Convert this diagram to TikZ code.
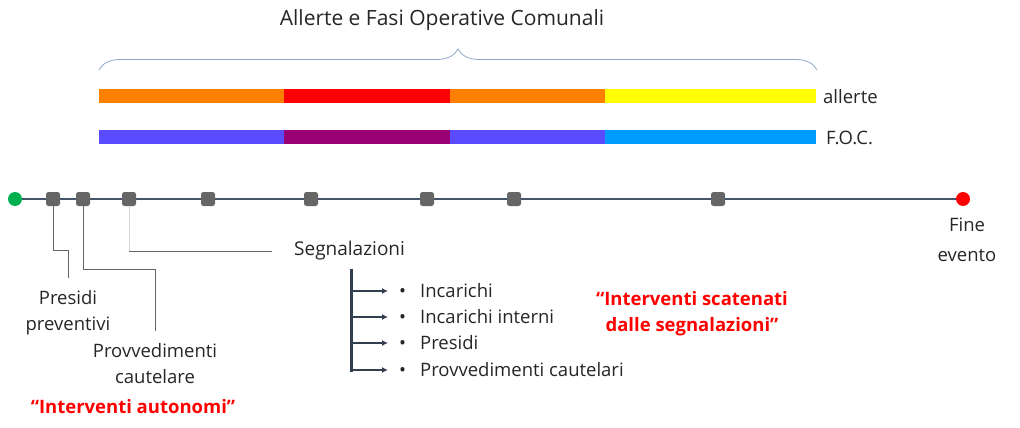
\documentclass[tikz,border=0pt]{standalone}
\usepackage{fontspec}
\setmainfont{Open Sans}
\usepackage{xcolor}
\usepackage{tikz}
\usetikzlibrary{decorations.pathreplacing}
\usetikzlibrary{calc}
\usetikzlibrary{arrows.meta}
\usetikzlibrary{positioning}

\definecolor{slate}{HTML}{44546A}
\definecolor{darkslate}{HTML}{323F4F}
\definecolor{sqgray}{HTML}{666666}
\definecolor{bracecol}{HTML}{8EA5CB}
\definecolor{allarancio}{HTML}{FF8000}
\definecolor{allrosso}{HTML}{FF0000}
\definecolor{allgiallo}{HTML}{FFFF00}
\definecolor{focblu}{HTML}{5B4BFF}
\definecolor{focviola}{HTML}{990073}
\definecolor{focceleste}{HTML}{009BFF}
\definecolor{verde}{HTML}{00B050}
\definecolor{testo}{HTML}{262626}

\tikzset{
  tappa/.style={rectangle,fill=sqgray,minimum size=14pt,inner sep=0pt,rounded corners=2.5pt},
  estremo/.style={circle,minimum size=14pt,inner sep=0pt},
  etichetta/.style={text=testo,font=\fontsize{18.5}{26}\selectfont,align=center,inner sep=0pt},
  rosso/.style={text=allrosso,font=\fontsize{18.5}{26}\selectfont\bfseries,align=center,inner sep=0pt},
  richiamo/.style={draw=sqgray,line width=1pt},
  barra/.style={line width=14pt}
}

\begin{document}
\begin{tikzpicture}[x=1pt,y=-1pt]
\useasboundingbox (0,0) rectangle (1020,428);

%title and brace
\node[etichetta,font=\fontsize{21}{26}\selectfont] (titolo) at (442,20) {Allerte e Fasi Operative Comunali};
\coordinate (b1) at (99,70);
\coordinate (b2) at (817,70);
\draw[bracecol,line width=0.8pt,decoration={brace,amplitude=21pt},decorate] (b1)--(b2);

%allerte bar
\coordinate (a0) at (99,96);
\coordinate (a1) at (284,96);
\coordinate (a2) at (450,96);
\coordinate (a3) at (605,96);
\coordinate (a4) at (816,96);
\draw[barra,allarancio] (a0)--(a1);
\draw[barra,allrosso] (a1)--(a2);
\draw[barra,allarancio] (a2)--(a3);
\draw[barra,allgiallo] (a3)--(a4);
\node[etichetta,anchor=west] (allerte) at (823,97) {allerte};

%F.O.C. bar
\coordinate (f0) at (99,137);
\coordinate (f1) at (284,137);
\coordinate (f2) at (450,137);
\coordinate (f3) at (605,137);
\coordinate (f4) at (816,137);
\draw[barra,focblu] (f0)--(f1);
\draw[barra,focviola] (f1)--(f2);
\draw[barra,focblu] (f2)--(f3);
\draw[barra,focceleste] (f3)--(f4);
\node[etichetta,anchor=west] (foc) at (826,138) {F.O.C.};

%timeline
\node[estremo,fill=verde] (inizio) at (15,199) {};
\node[estremo,fill=allrosso] (fine) at (963,199) {};
\draw[slate,line width=2pt] (inizio)--(fine);
\foreach \x [count=\i] in {53,83,129,208,311,427,514,718}
  \node[tappa] (t\i) at (\x,199) {};
\node[etichetta,below=12pt of fine,xshift=4pt,font=\fontsize{18.5}{30}\selectfont] (fineevento) {Fine\\evento};

%autonomous steps
\node[etichetta,anchor=north] (presidi) at (68,290) {Presidi\\preventivi};
\node[etichetta,anchor=north] (provv) at (155,343) {Provvedimenti\\cautelare};
\draw[richiamo] (t1.south) |- (68,250) -- (68,278);
\draw[richiamo] (t2.south) |- (155,269) -- (155,331);
\draw[line width=1pt,draw=black!15] (t3.south) -- (129,251);
\draw[richiamo] (129,251) -- (272,251);
\node[etichetta,anchor=west,font=\fontsize{19}{26}\selectfont] (segnal) at (294,251) {Segnalazioni};
\node[rosso] (autonomi) at (133,407) {“Interventi autonomi”};

%segnalazioni tree
\coordinate (radice) at (351,269);
\coordinate (fondo) at (351,371.5);
\draw[darkslate,line width=3pt] (radice)--(fondo);
\foreach \y/\testo [count=\i] in {291/Incarichi,317/Incarichi interni,343/Presidi,370/Provvedimenti cautelari}{
  \node[etichetta,anchor=west] (voce\i) at (399,\y) {\textbullet\hspace{14pt}\testo};
  \draw[darkslate,line width=2.5pt,-{Latex[length=6pt,width=6pt]},shorten >=11pt] (351,\y) -- (voce\i.west);
}
\node[rosso] (scatenati) at (692,314) {“Interventi scatenati\\dalle segnalazioni”};
\end{tikzpicture}
\end{document}
